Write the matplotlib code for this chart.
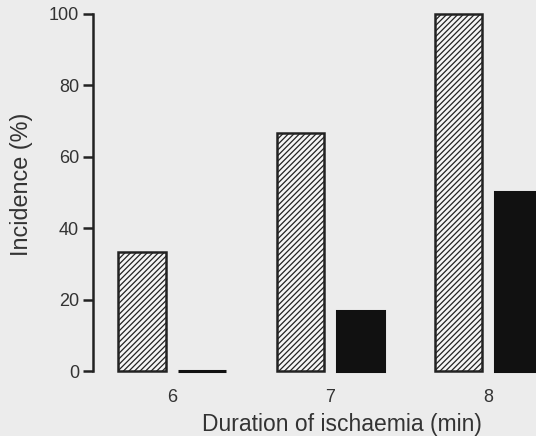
import matplotlib.pyplot as plt
import numpy as np

# durações (min) e incidência (%)
duracao = [6, 7, 8]
incid_hachurado = [33.3, 66.7, 100.0]
incid_preto = [0.0, 16.7, 50.0]
yticks = [0, 20, 40, 60, 80, 100]

plt.rcParams['font.family'] = ['Liberation Sans', 'DejaVu Sans']
plt.rcParams['hatch.color'] = '#4a4a4a'
plt.rcParams['hatch.linewidth'] = 0.9

fig = plt.figure(figsize=(5.36, 4.36), dpi=100)
fig.patch.set_facecolor('#ececec')
ax = fig.add_axes([0.1735, 0.149, 1 - 0.1735, 0.968 - 0.149])
ax.set_facecolor('#ececec')

x = np.array(duracao, dtype=float)
larg = 0.30
desl = 0.19
ax.bar(x - desl, incid_hachurado, width=larg, facecolor='#f4f4f4',
       edgecolor='#222222', linewidth=1.8, hatch='/' * 6, clip_on=False)
# barras pretas: sem clip para a barra de 0% aparecer como traço grosso
ax.bar(x + desl, incid_preto, width=larg, facecolor='#111111',
       edgecolor='#111111', linewidth=2.2, clip_on=False)

ax.set_xlim(5.5, 8.3)
ax.set_ylim(0, 100)
ax.set_xticks(duracao)
ax.set_xticklabels([str(d) for d in duracao])
ax.set_yticks(yticks)

for s in ['top', 'right', 'bottom']:
    ax.spines[s].set_visible(False)
ax.spines['left'].set_color('#222222')
ax.spines['left'].set_linewidth(1.8)

ax.tick_params(axis='y', direction='out', length=7, width=1.8, color='#222222',
               labelsize=13, labelcolor='#333333', pad=3)
ax.tick_params(axis='x', length=0, labelsize=13, labelcolor='#333333', pad=13)

ax.set_ylabel('Incidence (%)', fontsize=16.8, color='#333333')
ax.yaxis.set_label_coords(-0.135, 0.524)
ax.set_xlabel('Duration of ischaemia (min)', fontsize=16.5, color='#333333')
ax.xaxis.set_label_coords(0.562, -0.118)

fig.savefig('out.png', dpi=100, facecolor=fig.get_facecolor())
